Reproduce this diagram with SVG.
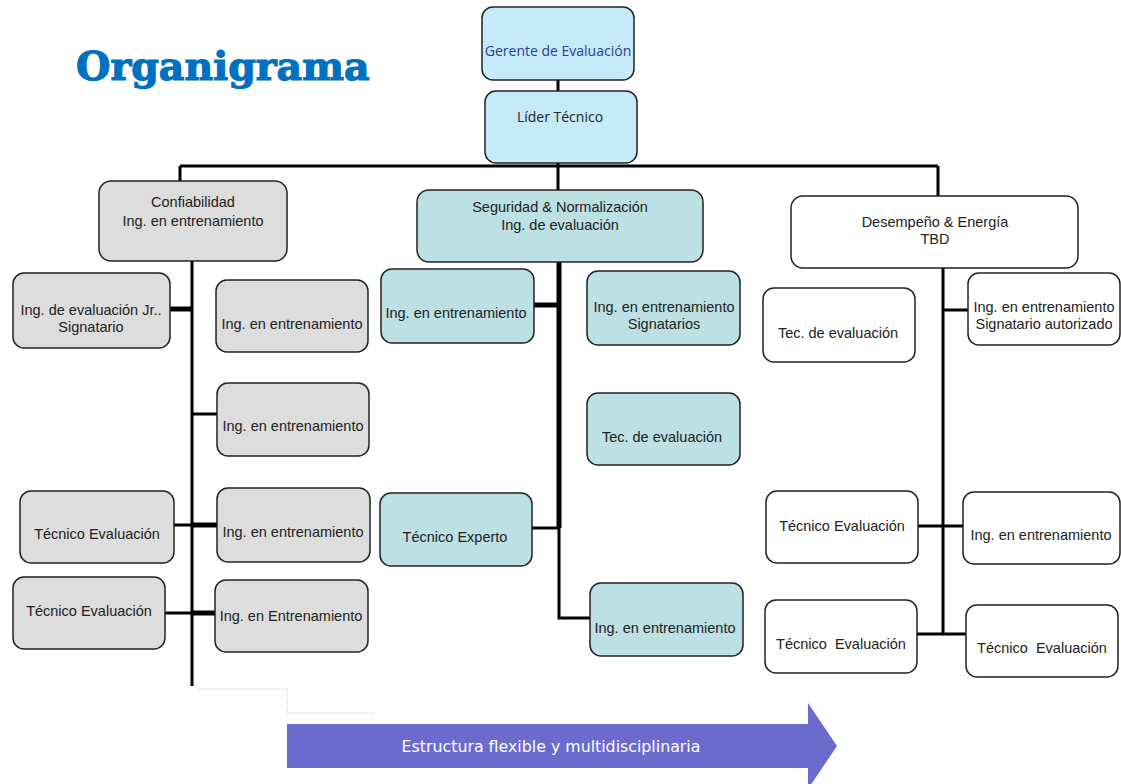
<svg xmlns="http://www.w3.org/2000/svg" width="1121" height="784" viewBox="0 0 1121 784">
<style>
.box{stroke:#222;stroke-width:1.5}
.top{fill:#C6EAF8}
.gray{fill:#DDDDDD}
.teal{fill:#BCE0E3}
.white{fill:#FFFFFF}
.t{font-family:"Liberation Sans",Arial,sans-serif;font-size:14.5px;fill:#222;text-anchor:middle}
.tc{font-family:"Open Sans","Liberation Sans",sans-serif;font-size:14px;text-anchor:middle}
.ln{stroke:#000;stroke-width:3;fill:none}
.lnb{stroke:#000;stroke-width:5;fill:none}
</style>
<rect width="1121" height="784" fill="#FFFFFF"/>
<text x="76" y="80" font-family="DejaVu Serif,serif" font-weight="bold" font-size="39.5" fill="#0070C0" stroke="#0070C0" stroke-width="1.2">Organigrama</text>

<g id="connectors">
  <path class="ln" d="M558,80V91"/>
  <path class="ln" d="M558,163V190"/>
  <path class="ln" d="M180,166H938"/>
  <path class="ln" d="M180,166V181"/>
  <path class="ln" d="M938,166V196"/>
  <path class="ln" d="M192,261V686"/>
  <path class="lnb" d="M170,309H192"/>
  <path class="ln" d="M192,414H217"/>
  <path class="ln" d="M174,525H192"/>
  <path class="lnb" d="M192,525H217"/>
  <path class="ln" d="M165,613H192"/>
  <path class="lnb" d="M192,613H216"/>
  <path class="lnb" d="M559,262V528"/>
  <path class="ln" d="M559,528V618H590"/>
  <path class="lnb" d="M534,305H559"/>
  <path class="ln" d="M532,528H559"/>
  <path class="ln" d="M943,268V634"/>
  <path class="ln" d="M943,310H968"/>
  <path class="ln" d="M918,526H963"/>
  <path class="ln" d="M917,634H966"/>
</g>

<g id="gerente"><rect class="box top" x="482" y="7" width="152" height="73" rx="11"/><text class="tc" x="558" y="56" fill="#2B3A9B">Gerente de Evaluación</text></g>
<g id="lider"><rect class="box top" x="485" y="91" width="152" height="72" rx="11"/><text class="tc" x="560" y="122" fill="#222" font-size="14.5">Líder Técnico</text></g>

<g id="confiabilidad"><rect class="box gray" x="99" y="181" width="188" height="80" rx="12"/><text class="t" x="193" y="207">Confiabilidad</text><text class="t" x="193" y="226">Ing. en entrenamiento</text></g>
<g id="c-jr"><rect class="box gray" x="13" y="273" width="157" height="75" rx="11"/><text class="t" x="91" y="315">Ing. de evaluación Jr..</text><text class="t" x="91" y="332">Signatario</text></g>
<g id="c-ing1"><rect class="box gray" x="216" y="280" width="152" height="72" rx="11"/><text class="t" x="292" y="329">Ing. en entrenamiento</text></g>
<g id="c-ing2"><rect class="box gray" x="217" y="383" width="152" height="73" rx="11"/><text class="t" x="293" y="431">Ing. en entrenamiento</text></g>
<g id="c-tec1"><rect class="box gray" x="20" y="491" width="154" height="72" rx="11"/><text class="t" x="97" y="539">Técnico Evaluación</text></g>
<g id="c-ing3"><rect class="box gray" x="217" y="488" width="153" height="74" rx="11"/><text class="t" x="293" y="537">Ing. en entrenamiento</text></g>
<g id="c-tec2"><rect class="box gray" x="13" y="577" width="152" height="72" rx="11"/><text class="t" x="89" y="616">Técnico Evaluación</text></g>
<g id="c-ing4"><rect class="box gray" x="215" y="580" width="153" height="72" rx="11"/><text class="t" x="291" y="621">Ing. en Entrenamiento</text></g>

<g id="seguridad"><rect class="box teal" x="417" y="190" width="286" height="72" rx="12"/><text class="t" x="560" y="212">Seguridad &amp; Normalización</text><text class="t" x="560" y="230">Ing. de evaluación</text></g>
<g id="s-ing1"><rect class="box teal" x="381" y="269" width="153" height="74" rx="11"/><text class="t" x="456" y="318">Ing. en entrenamiento</text></g>
<g id="s-ing2"><rect class="box teal" x="587" y="271" width="153" height="74" rx="11"/><text class="t" x="664" y="312">Ing. en entrenamiento</text><text class="t" x="664" y="329">Signatarios</text></g>
<g id="s-tec"><rect class="box teal" x="587" y="393" width="153" height="72" rx="11"/><text class="t" x="662" y="442">Tec. de evaluación</text></g>
<g id="s-exp"><rect class="box teal" x="380" y="493" width="152" height="73" rx="11"/><text class="t" x="455" y="542">Técnico Experto</text></g>
<g id="s-ing3"><rect class="box teal" x="590" y="583" width="153" height="73" rx="11"/><text class="t" x="665" y="633">Ing. en entrenamiento</text></g>

<g id="desempeno"><rect class="box white" x="791" y="196" width="287" height="72" rx="12"/><text class="t" x="935" y="227">Desempeño &amp; Energía</text><text class="t" x="935" y="244">TBD</text></g>
<g id="d-tec1"><rect class="box white" x="763" y="288" width="152" height="74" rx="11"/><text class="t" x="838" y="338">Tec. de evaluación</text></g>
<g id="d-ing1"><rect class="box white" x="968" y="273" width="152" height="72" rx="11"/><text class="t" x="1044" y="312">Ing. en entrenamiento</text><text class="t" x="1044" y="329">Signatario autorizado</text></g>
<g id="d-tec2"><rect class="box white" x="766" y="491" width="152" height="72" rx="11"/><text class="t" x="842" y="531">Técnico Evaluación</text></g>
<g id="d-ing2"><rect class="box white" x="963" y="492" width="157" height="72" rx="11"/><text class="t" x="1041" y="540">Ing. en entrenamiento</text></g>
<g id="d-tec3"><rect class="box white" x="765" y="600" width="152" height="73" rx="11"/><text class="t" x="841" y="649" xml:space="preserve">Técnico  Evaluación</text></g>
<g id="d-tec4"><rect class="box white" x="966" y="605" width="152" height="72" rx="11"/><text class="t" x="1042" y="653" xml:space="preserve">Técnico  Evaluación</text></g>

<path d="M197,689H287V713H375" fill="none" stroke="#A8DDE6" stroke-width="1" stroke-dasharray="1,1"/>
<g id="arrow">
  <path d="M287,724H808V703L837,746L808,789V768H287Z" fill="#6B6BCE"/>
  <text x="551" y="752" font-family="DejaVu Sans,sans-serif" font-size="15.8" fill="#FFFFFF" text-anchor="middle">Estructura flexible y multidisciplinaria</text>
</g>
</svg>
